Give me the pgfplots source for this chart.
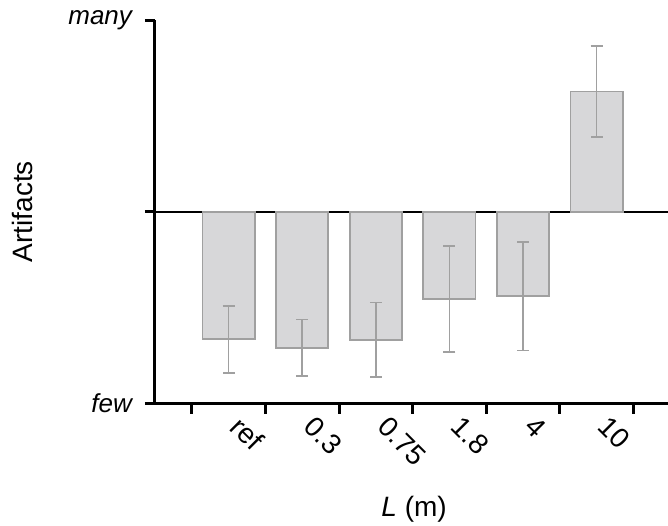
\documentclass[border=0pt]{standalone}
\usepackage{pgfplots}
\pgfplotsset{compat=1.18}
\usepackage{fontspec}
\setmainfont{Liberation Sans}
\definecolor{barfill}{HTML}{D7D7D9}
\definecolor{baredge}{HTML}{A0A0A0}
\begin{document}
\begin{tikzpicture}
\useasboundingbox (-77.5pt,-60.75pt) rectangle (256.5pt,201.75pt);
\begin{axis}[
  at={(0,0)}, anchor=south west,
  scale only axis, width=256.5pt, height=191.75pt,
  xmin=-1, xmax=5.97, ymin=-1, ymax=1,
  axis x line*=bottom, axis y line*=left,
  axis line style={line width=1.5pt},
  tick align=outside, major tick length=5pt, minor tick length=5pt,
  tick style={black, line width=1.5pt},
  minor tick style={black, line width=1.5pt},
  ytick={-1,0,1}, yticklabels={few,,many},
  yticklabel style={font=\fontsize{13}{15}\selectfont\itshape, xshift=-3pt},
  xtick={0,1,2,3,4,5},
  xticklabels={ref,0.3,0.75,1.8,4,10},
  major x tick style={draw=none},
  minor xtick={-0.5,0.5,1.5,2.5,3.5,4.5,5.5},
  xticklabel style={rotate=-45, anchor=west, font=\fontsize{14}{16}\selectfont, yshift=-0.5pt, xshift=2pt},
  ylabel={Artifacts},
  ylabel style={at={(axis description cs:-0.259,0.5)}, anchor=center, font=\fontsize{14}{16}\selectfont},
  xlabel={\textit{L} (m)},
  xlabel style={at={(axis description cs:0.505,-0.275)}, anchor=center, font=\fontsize{14}{16}\selectfont},
  clip=false,
]
\draw[black, line width=0.75pt] (axis cs:-1,0) -- (axis cs:5.97,0);
\addplot[ybar, bar width=0.71, fill=barfill, draw=baredge, line width=0.9pt,
  error bars/.cd, y dir=both, y explicit,
  error bar style={baredge, line width=0.8pt},
  error mark options={rotate=90, mark size=3pt, baredge, line width=0.8pt}]
coordinates {
  (0,-0.665) +- (0,0.175)
  (1,-0.709) +- (0,0.148)
  (2,-0.668) +- (0,0.195)
  (3,-0.455) +- (0,0.275)
  (4,-0.441) +- (0,0.283)
  (5,0.627)  +- (0,0.238)
};
\end{axis}
\end{tikzpicture}
\end{document}
